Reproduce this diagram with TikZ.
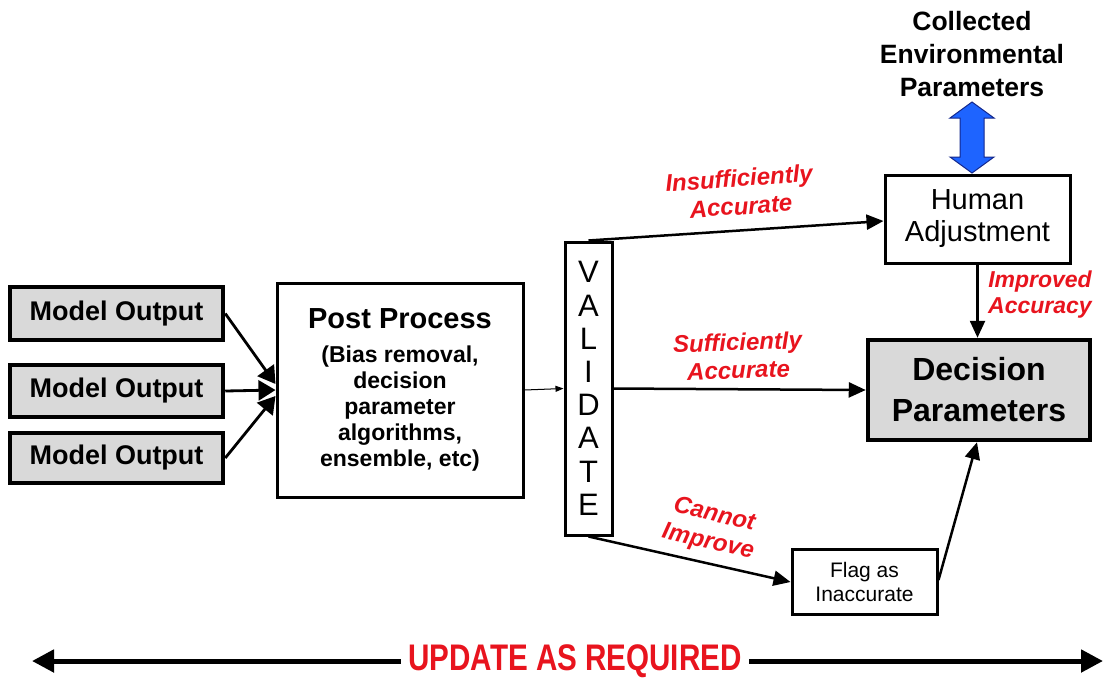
\documentclass[tikz,border=0pt]{standalone}
\usepackage{fontspec}
\setmainfont{Liberation Sans}
\usetikzlibrary{arrows.meta}
\definecolor{lblred}{RGB}{232,20,30}
\definecolor{boxgray}{RGB}{217,217,217}
\definecolor{envblue}{RGB}{30,100,255}
\definecolor{envedge}{RGB}{20,40,140}
\tikzset{
  modelbox/.style={draw, line width=4.5pt, fill=boxgray, minimum width=213pt, inner sep=0pt,
     font=\fontsize{27}{30}\selectfont\bfseries},
  plainbox/.style={draw, line width=3pt, fill=white, inner sep=0pt, align=center},
  lbl/.style={text=lblred, align=center, inner sep=0pt, font=\fontsize{24}{28}\selectfont\bfseries\itshape},
  arr/.style={line width=2.5pt, -{Triangle[length=17pt,width=15pt]}},
  thinarr/.style={line width=1pt, -{Triangle[length=8pt,width=6pt]}},
  joinarr/.style={line width=2.8pt, -{Triangle[length=17pt,width=20pt]}},
  bigarr/.style={line width=5pt, -{Triangle[length=22pt,width=22pt]}},
}
\begin{document}
\begin{tikzpicture}[x=1pt,y=-1pt]
\useasboundingbox (0,0) rectangle (1105,681);

% model outputs
\node[modelbox, minimum height=53pt] (m1) at (116.5,313.5) {Model Output};
\node[modelbox, minimum height=52pt] (m2) at (116.5,391) {Model Output};
\node[modelbox, minimum height=50pt] (m3) at (116.5,458) {Model Output};

% post process
\node[plainbox, minimum width=246pt, minimum height=214pt,
      font=\fontsize{23}{26}\selectfont\bfseries] (post) at (400,390)
  {{\fontsize{29}{33}\selectfont Post Process}\\[8pt]
   (Bias removal,\\decision\\parameter\\algorithms,\\ensemble, etc)};

% validate
\node[plainbox, minimum width=47pt, minimum height=293pt,
      font=\fontsize{31}{33.2}\selectfont] (val) at (588.5,388.5)
  {V\\A\\L\\I\\D\\A\\T\\E};

% human adjustment
\node[plainbox, minimum width=185pt, minimum height=88pt,
      font=\fontsize{29}{32}\selectfont] (human) at (977.5,219) {Human\\Adjustment};

% decision parameters
\node[plainbox, fill=boxgray, line width=4.5pt, minimum width=222pt, minimum height=100pt,
      font=\fontsize{32}{41}\selectfont\bfseries] (dec) at (979,390) {Decision\\Parameters};

% flag
\node[plainbox, minimum width=145pt, minimum height=65pt,
      font=\fontsize{21}{24}\selectfont] (flag) at (864.5,582) {Flag as\\Inaccurate};

% collected env params
\node[align=center, inner sep=0pt, font=\fontsize{26.5}{33}\selectfont\bfseries] (coll) at (972,54)
  {Collected\\Environmental\\Parameters};

% blue double arrow
\draw[fill=envblue, draw=envedge, line width=1pt, line join=miter]
  (972,102) -- (994,118) -- (984,118) -- (984,157) -- (994,157) -- (972,173)
  -- (950,157) -- (960,157) -- (960,118) -- (950,118) -- cycle;

% joining arrows into post process
\draw[joinarr] (m1.east) -- ([yshift=6pt]post.west);
\draw[joinarr] (m2.east) -- (post.west);
\draw[joinarr] (m3.east) -- ([yshift=-6pt]post.west);

% post -> validate
\draw[thinarr] (post.east) -- (val.west);

% validate outputs
\draw[arr] (val.north) -- ([yshift=-2pt]human.west);
\draw[arr] (val.east) -- (dec.west);
\draw[arr] (val.south) -- (flag.west);
\draw[arr] (human.south) -- (human.south |- dec.north);
\draw[arr] ([yshift=2pt]flag.east) -- ([xshift=-2pt]dec.south);

% labels
\node[lbl, rotate=4] (l1) at (740,192) {Insufficiently\\Accurate};
\node[lbl, rotate=2] (l2) at (738,356) {Sufficiently\\Accurate};
\node[lbl, rotate=-13] (l3) at (711,529) {Cannot\\Improve};
\node[lbl, font=\fontsize{23}{26}\selectfont\bfseries\itshape] (l4) at (1040,295) {Improved\\Accuracy};

% update as required
\node[text=lblred, inner sep=9pt, xscale=0.8, font=\fontsize{37}{40}\selectfont\bfseries] (upd) at (575,661) {UPDATE AS REQUIRED};
\coordinate (uL) at (32,661);
\coordinate (uR) at (1103,661);
\draw[bigarr] (upd.west) -- (uL);
\draw[bigarr] (upd.east) -- (uR);
\end{tikzpicture}
\end{document}
